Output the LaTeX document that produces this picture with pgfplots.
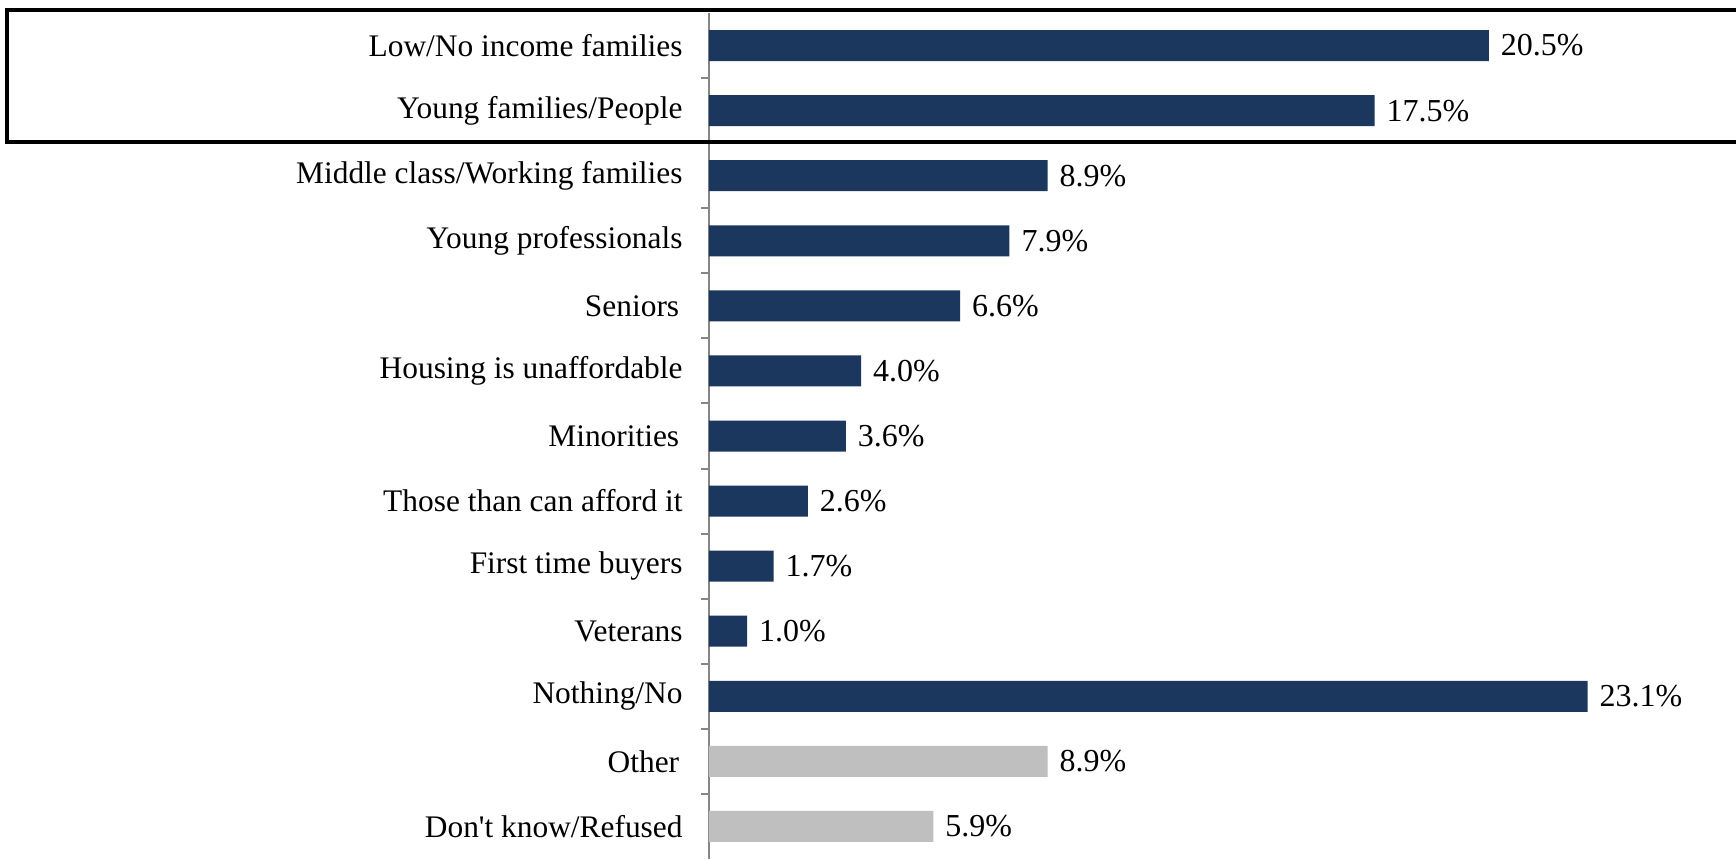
\documentclass[border=0pt]{standalone}
\usepackage{fontspec}
\setmainfont{Liberation Serif}[Ligatures=TeXOff]
\usepackage{pgfplots}
\pgfplotsset{compat=1.18}
\definecolor{navy}{RGB}{27,55,94}
\definecolor{lgray}{RGB}{191,191,191}
\definecolor{axgray}{RGB}{134,134,134}
\begin{document}
\begin{tikzpicture}
\begin{axis}[
  at={(0,0)}, anchor=south west,
  scale only axis, width=513.5pt, height=423pt,
  xmin=0, xmax=27, ymin=-0.5, ymax=12.5, y dir=reverse,
  axis x line=none, axis y line=left,
  y axis line style={-, draw=axgray, line width=1pt},
  xbar, bar width=15.5pt, bar shift=0pt,
  xtick=\empty,
  ytick={0,...,12},
  yticklabels={Low/No income families, Young families/People, Middle class/Working families, Young professionals, Seniors\kern1.7pt, Housing is unaffordable, Minorities\kern1.7pt, Those than can afford it, First time buyers, Veterans, Nothing/No, Other\kern1.7pt, Don't know/Refused},
  major tick length=0pt,
  minor ytick={0.5,1.5,...,11.5},
  minor tick length=4pt,
  tick align=outside,
  ytick style={draw=axgray, line width=1pt},
  yticklabel style={font=\fontsize{15.7}{18.8}\selectfont, inner sep=0pt, xshift=-13pt, anchor=east},
  nodes near coords={\pgfmathprintnumber[fixed,fixed zerofill,precision=1]{\pgfplotspointmeta}\%},
  every node near coord/.append style={font=\fontsize{16}{19}\selectfont, black, anchor=west, xshift=2.5pt},
  /pgf/number format/assume math mode=true,
]
\addplot[fill=navy, draw=none] coordinates {
  (20.5,0) (17.5,1) (8.9,2) (7.9,3) (6.6,4) (4.0,5) (3.6,6) (2.6,7) (1.7,8) (1.0,9) (23.1,10)
};
\addplot[fill=lgray, draw=none] coordinates {
  (8.9,11) (5.9,12)
};
\end{axis}
\draw[line width=2pt, black] (-351pt,424.5pt) rectangle (530pt,358.5pt);
\pgfresetboundingbox
\path (-354.5pt,0pt) rectangle (513.5pt,429.5pt);
\end{tikzpicture}
\end{document}
